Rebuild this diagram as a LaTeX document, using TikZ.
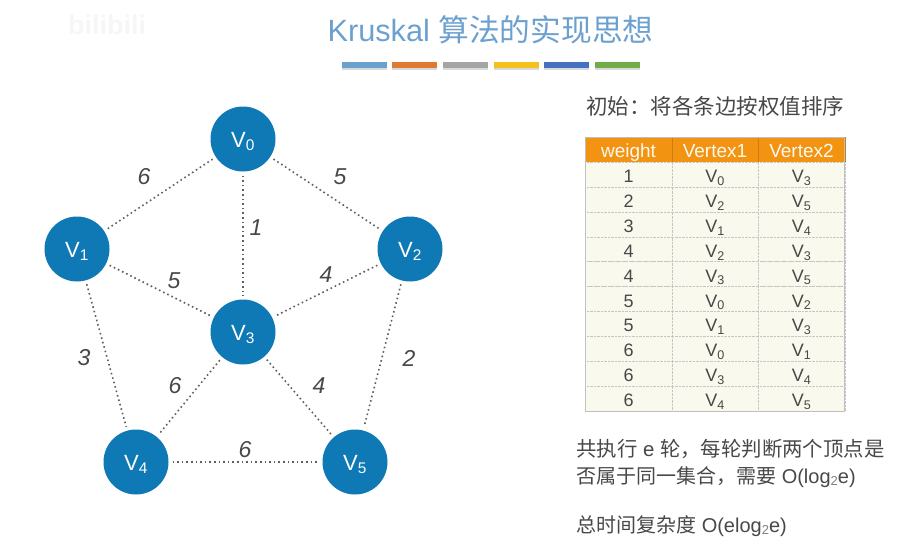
\documentclass[tikz,border=0pt]{standalone}
\usepackage{fontspec}
\setmainfont{Liberation Sans}
\newfontfamily\cjk{Noto Sans CJK SC}
\usepackage{tikz}
\usetikzlibrary{positioning,shadows}

\definecolor{titleblue}{HTML}{6CA0CF}
\definecolor{vertexblue}{HTML}{0F79B5}
\definecolor{headorange}{HTML}{F39312}
\definecolor{cellcream}{HTML}{F9F9EE}
\definecolor{textgray}{HTML}{484848}
\definecolor{linegray}{HTML}{606060}
\definecolor{barblue}{HTML}{6AA0CE}
\definecolor{barorange}{HTML}{DF7A35}
\definecolor{bargray}{HTML}{A5A5A5}
\definecolor{baryellow}{HTML}{F4C01E}
\definecolor{barnavy}{HTML}{4472C0}
\definecolor{bargreen}{HTML}{70AD47}

\newcommand{\vname}[1]{V\textsubscript{#1}}
\newcommand{\lowtwo}{\raisebox{-0.2ex}{\fontsize{13}{13}\selectfont\color{gray}2}}

\begin{document}
\begin{tikzpicture}[
    x=1pt, y=-1pt,
    vertex/.style={circle, fill=vertexblue, text=white, minimum size=65pt, inner sep=0pt, outer sep=4pt, text height=16pt, text depth=0pt, font=\fontsize{22}{22}\selectfont},
    edgeline/.style={draw=linegray, line width=1.6pt, dash pattern=on 1.6pt off 3pt},
    weight/.style={text=textgray, inner sep=0pt, font=\fontsize{23}{23}\selectfont\itshape},
    barbox/.style={minimum width=45pt, minimum height=6pt, inner sep=0pt, drop shadow={shadow xshift=0pt, shadow yshift=-1.5pt, opacity=0.3}},
    headcell/.style={draw=headorange!85!black, fill=headorange, text=cellcream, minimum width=86.5pt, minimum height=25pt, inner sep=0pt, outer sep=0pt, text height=16pt, text depth=0pt, font=\fontsize{19}{19}\selectfont},
    cell/.style={draw=gray!45, densely dotted, fill=cellcream, text=textgray, minimum width=86.5pt, minimum height=24.9pt, inner sep=0pt, outer sep=0pt, text height=16pt, text depth=0pt, font=\fontsize{18}{18}\selectfont},
    note/.style={anchor=west, text=textgray, inner sep=0pt, font=\fontsize{20}{20}\selectfont}
]
    \useasboundingbox (0,0) rectangle (916,547);

    % title and colour strip
    \node[text=gray!7, inner sep=0pt, font=\fontsize{27}{27}\selectfont\bfseries] (mark) at (107,25) {bilibili};
    \node[text=titleblue, inner sep=0pt, font=\fontsize{30.7}{30.7}\selectfont] (title) at (490.5,30) {Kruskal {\cjk 算法的实现思想}};
    \foreach \x/\c [count=\i] in {364/barblue, 414/barorange, 465/bargray, 516/baryellow, 566/barnavy, 617/bargreen}
        \node[barbox, fill=\c] (bar\i) at (\x,65) {};

    % graph
    \node[vertex] (v0) at (243,139) {\vname{0}};
    \node[vertex] (v1) at (77,249) {\vname{1}};
    \node[vertex] (v2) at (410,249) {\vname{2}};
    \node[vertex] (v3) at (243,332) {\vname{3}};
    \node[vertex] (v4) at (136,462) {\vname{4}};
    \node[vertex] (v5) at (355,462) {\vname{5}};

    \foreach \a/\b in {v0/v1, v0/v2, v0/v3, v1/v3, v2/v3, v1/v4, v2/v5, v3/v4, v3/v5, v4/v5}
        \draw[edgeline] (\a) -- (\b);

    \foreach \w/\x/\y [count=\i] in {6/144/177, 5/340/177, 1/256/228, 5/174/281, 4/326/275, 3/84/358, 2/409/358, 6/175/386, 4/319/386, 6/245/450}
        \node[weight] (w\i) at (\x,\y) {\w};

    % sorted edge table
    \node[note] (init) at (586,106) {\fontsize{21.5}{21.5}\selectfont\cjk 初始：将各条边按权值排序};

    \node[headcell] (hw) at (628.5,149.5) {weight};
    \node[headcell, right=0pt of hw] (ha) {Vertex1};
    \node[headcell, right=0pt of ha] (hb) {Vertex2};

    \foreach \w/\a/\b [count=\i, evaluate=\i as \rowy using 174.5+(\i-1)*24.9] in {1/0/3, 2/2/5, 3/1/4, 4/2/3, 4/3/5, 5/0/2, 5/1/3, 6/0/1, 6/3/4, 6/4/5} {
        \node[cell] (cw\i) at (628.5,\rowy) {\w};
        \node[cell, right=0pt of cw\i] (ca\i) {\vname{\a}};
        \node[cell, right=0pt of ca\i] (cb\i) {\vname{\b}};
    }
    \draw[gray!50, line width=1pt] (hw.north west) rectangle (cb10.south east);

    % notes
    \node[note, font=\fontsize{20.4}{20.4}\selectfont] (round) at (576,449) {{\cjk 共执行} e {\cjk 轮，每轮判断两个顶点是}};
    \node[note] (check) at (576,477) {{\cjk 否属于同一集合，需要} O(log\lowtwo e)};
    \node[note] (total) at (576,526) {{\cjk 总时间复杂度} O(elog\lowtwo e)};
\end{tikzpicture}
\end{document}
